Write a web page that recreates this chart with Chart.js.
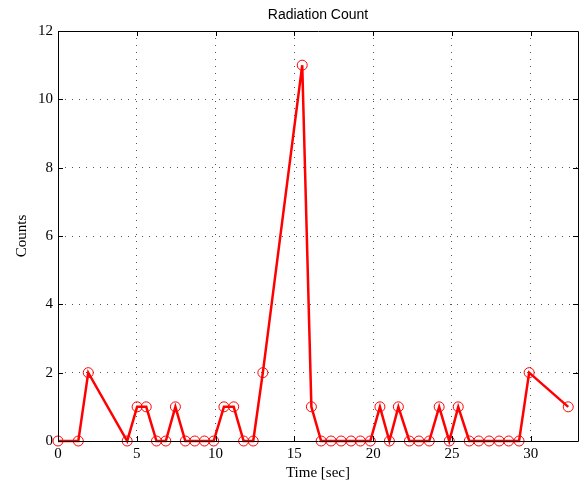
<!DOCTYPE html>
<html>
<head>
<meta charset="utf-8">
<script src="https://cdn.jsdelivr.net/npm/chart.js@4/dist/chart.umd.min.js"></script>
<style>
  html, body { margin: 0; padding: 0; background: #fff; }
  #wrap { width: 586px; height: 485px; }
</style>
</head>
<body>
<div id="wrap"><canvas id="c" width="586" height="485"></canvas></div>
<script>
// time stamps (sec) and counts
const times = [0, 1.29, 1.92, 4.39, 5.02, 5.6, 6.25, 6.84, 7.45, 8.08,
  8.68, 9.29, 9.88, 10.53, 11.15, 11.78, 12.39, 13.0, 15.5, 16.08,
  16.7, 17.33, 17.97, 18.6, 19.19, 19.82, 20.43, 21.03, 21.6, 22.3,
  22.9, 23.56, 24.19, 24.83, 25.4, 26.1, 26.7, 27.36, 28.0, 28.6,
  29.26, 29.9, 32.38];
const counts = [0, 0, 2, 0, 1, 1, 0, 0, 1, 0,
  0, 0, 0, 1, 1, 0, 0, 2, 11, 1,
  0, 0, 0, 0, 0, 0, 1, 0, 1, 0,
  0, 0, 1, 0, 1, 0, 0, 0, 0, 0,
  0, 2, 1];
const xRange = [0, 33];
const yRange = [0, 12];
const xStep = 5;
const yStep = 2;

const points = times.map((t, i) => ({ x: t, y: counts[i] }));

// MATLAB style box: black frame plus inward tick marks on all four sides
const boxPlugin = {
  id: 'box',
  afterDraw(chart) {
    const { ctx, chartArea: a, scales } = chart;
    ctx.save();
    ctx.strokeStyle = '#000';
    ctx.lineWidth = 1;
    ctx.beginPath();
    ctx.rect(Math.round(a.left) + 0.5, Math.round(a.top) + 0.5,
      Math.round(a.right - a.left), Math.round(a.bottom - a.top));
    ctx.stroke();
    const len = 5;
    ctx.beginPath();
    scales.x.ticks.forEach(t => {
      const px = Math.round(scales.x.getPixelForValue(t.value)) + 0.5;
      ctx.moveTo(px, a.bottom); ctx.lineTo(px, a.bottom - len);
      ctx.moveTo(px, a.top); ctx.lineTo(px, a.top + len);
    });
    scales.y.ticks.forEach(t => {
      const py = Math.round(scales.y.getPixelForValue(t.value)) + 0.5;
      ctx.moveTo(a.left, py); ctx.lineTo(a.left + len, py);
      ctx.moveTo(a.right, py); ctx.lineTo(a.right - len, py);
    });
    ctx.stroke();
    ctx.restore();
  }
};

const serif = '"Liberation Serif", "DejaVu Serif", serif';

new Chart(document.getElementById('c'), {
  type: 'scatter',
  data: {
    datasets: [{
      data: points,
      showLine: true,
      borderColor: '#ff0000',
      borderWidth: 2.5,
      pointStyle: 'circle',
      pointRadius: 5,
      pointBorderWidth: 1,
      pointBorderColor: '#ff0000',
      pointBackgroundColor: 'rgba(0,0,0,0)',
      clip: false
    }]
  },
  options: {
    responsive: false,
    animation: false,
    layout: { padding: { left: 0, right: 8, top: 0, bottom: 0 } },
    plugins: {
      legend: { display: false },
      tooltip: { enabled: false },
      title: {
        display: true,
        text: 'Radiation Count',
        fullSize: false,
        color: '#000',
        font: { family: '"Liberation Sans", Arial, sans-serif', size: 14, weight: 'normal' },
        padding: { top: 6.5, bottom: 7.7 }
      }
    },
    scales: {
      x: {
        type: 'linear',
        min: xRange[0],
        max: xRange[1],
        afterFit(s) { s.height = 44; s.paddingRight = 0; },
        afterBuildTicks(s) { s.ticks = s.ticks.filter(t => t.value % xStep === 0); },
        ticks: { stepSize: xStep, color: '#000', padding: 4, font: { family: serif, size: 15 } },
        grid: { color: '#555', lineWidth: 1, drawTicks: false },
        border: { display: false, dash: [1, 6] },
        title: { display: true, text: 'Time [sec]', color: '#000',
                 font: { family: serif, size: 15 }, padding: { top: 0, bottom: 3 } }
      },
      y: {
        type: 'linear',
        min: yRange[0],
        max: yRange[1],
        afterFit(s) { s.width = 58; },
        ticks: { stepSize: yStep, color: '#000', padding: 5, font: { family: serif, size: 15 } },
        grid: { color: '#555', lineWidth: 1, drawTicks: false },
        border: { display: false, dash: [1, 6] },
        title: { display: true, text: 'Counts', color: '#000',
                 font: { family: serif, size: 15 }, padding: { top: 13, bottom: 0 } }
      }
    }
  },
  plugins: [boxPlugin]
});
</script>
</body>
</html>
